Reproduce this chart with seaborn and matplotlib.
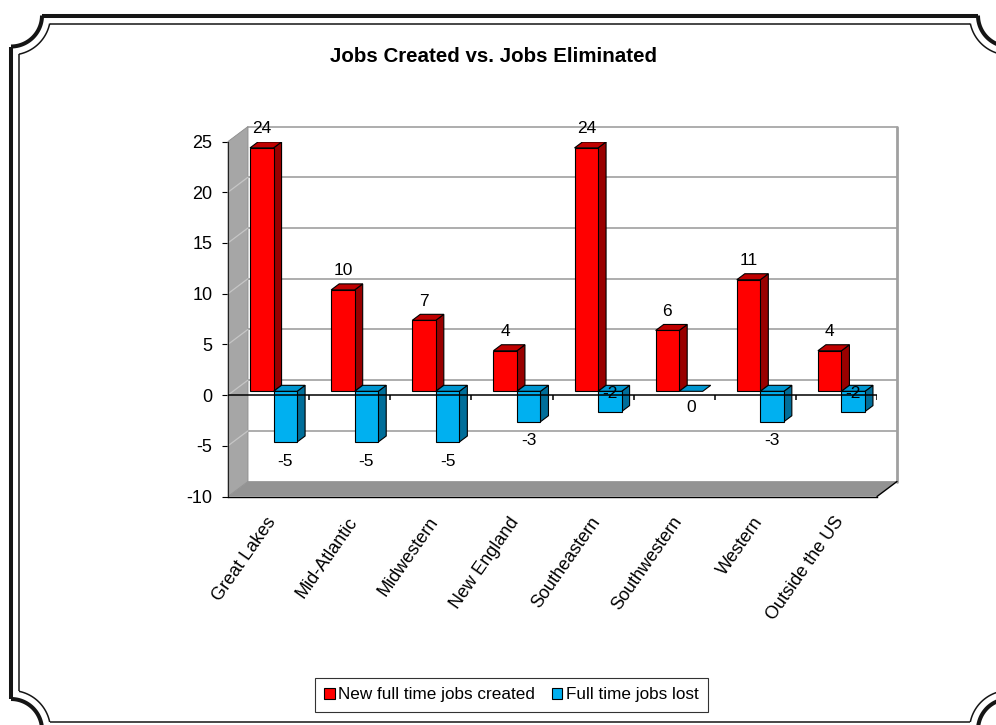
import numpy as np
import pandas as pd
import matplotlib
matplotlib.use("Agg")
import matplotlib.pyplot as plt
import seaborn as sns
from matplotlib.patches import Polygon, Patch

# ---- data ----
regions = ["Great Lakes", "Mid-Atlantic", "Midwestern", "New England",
           "Southeastern", "Southwestern", "Western", "Outside the US"]
jobs_created = [24, 10, 7, 4, 24, 6, 11, 4]
jobs_lost = [-5, -5, -5, -3, -2, 0, -3, -2]
series_names = ["New full time jobs created", "Full time jobs lost"]
y_ticks = [-10, -5, 0, 5, 10, 15, 20, 25]
title = "Jobs Created vs. Jobs Eliminated"

sns.set_style("white")
plt.rcParams["font.family"] = ["Liberation Sans", "DejaVu Sans"]
plt.rcParams["axes.unicode_minus"] = False
plt.rcParams["text.color"] = "black"
plt.rcParams["ytick.color"] = "black"

df = pd.DataFrame({
    "Region": regions * 2,
    "Series": [series_names[0]] * len(regions) + [series_names[1]] * len(regions),
    "Jobs": jobs_created + jobs_lost,
})

W, H = 996, 725
fig = plt.figure(figsize=(W / 100, H / 100), dpi=100)

# ---- decorative double frame with scooped corners (pixel coordinates) ----
bg = fig.add_axes([0, 0, 1, 1], zorder=-5)
bg.set_xlim(0, W)
bg.set_ylim(H, 0)
bg.axis("off")


def frame(x0, y0, x1, y1, r, d, lw):
    k = np.sqrt(r * r - d * d)
    segs = [
        ([x0 + k, x1 - k], [y0 + d, y0 + d]),
        ([x0 + k, x1 - k], [y1 - d, y1 - d]),
        ([x0 + d, x0 + d], [y0 + k, y1 - k]),
        ([x1 - d, x1 - d], [y0 + k, y1 - k]),
    ]
    t = np.linspace(np.arcsin(d / r), np.arccos(d / r), 60)
    for cx, cy, sx, sy in [(x0, y0, 1, 1), (x1, y0, -1, 1),
                           (x0, y1, 1, -1), (x1, y1, -1, -1)]:
        segs.append((cx + sx * r * np.cos(t), cy + sy * r * np.sin(t)))
    for xs, ys in segs:
        bg.plot(xs, ys, color="#151515", lw=lw, solid_capstyle="butt")


frame(11, 15.5, 1009, 730, 31, 0, 2.9)
frame(11, 15.5, 1009, 730, 39.5, 8, 1.1)

# ---- front plane of the 3-D plot ----
ax = fig.add_axes([228 / W, 1 - 496.5 / H, 649 / W, 355 / H])
ax.set_facecolor("none")
sns.barplot(data=df, x="Region", y="Jobs", hue="Series",
            palette=["#ff0000", "#00b0f0"], width=0.58, saturation=1,
            edgecolor="black", linewidth=0.8, legend=False, ax=ax)
xl, xr, yb, yt = -0.5, len(regions) - 0.5, y_ticks[0], y_ticks[-1]
ax.set_xlim(xl, xr)
ax.set_ylim(yb, yt)

(p0x, p0y), (p1x, p1y) = ax.transData.transform([(0, 0), (1, 1)])
ux, uy = p1x - p0x, p1y - p0y
ddx, ddy = 20 / ux, 15 / uy          # depth of the plot box

# back wall grid
for v in y_ticks:
    ax.plot([xl + ddx, xr + ddx], [v + ddy, v + ddy], color="#a0a0a0",
            lw=1.2, zorder=0.5, clip_on=False)
ax.plot([xr + ddx, xr + ddx], [yb + ddy, yt + ddy], color="#a0a0a0",
        lw=2.0, zorder=0.5, clip_on=False)

# side wall and floor
ax.add_patch(Polygon([(xl, yb), (xl, yt), (xl + ddx, yt + ddy), (xl + ddx, yb + ddy)],
                     closed=True, fc="#a6a6a6", ec="#8c8c8c", lw=0.6,
                     zorder=1, clip_on=False))
for v in y_ticks[1:-1]:
    ax.plot([xl, xl + ddx], [v, v + ddy], color="#c6c6c6", lw=0.9,
            zorder=1.1, clip_on=False)
ax.add_patch(Polygon([(xl, yb), (xr, yb), (xr + ddx, yb + ddy), (xl + ddx, yb + ddy)],
                     closed=True, fc="#939393", ec="none", zorder=1, clip_on=False))
ax.plot([xr, xr + ddx], [yb, yb + ddy], color="black", lw=1.0, zorder=1.2,
        clip_on=False)

# extrude the bars
front, depth = 0.25, 0.40
fdx, fdy = front * ddx, front * ddy
bdx, bdy = depth * ddx, depth * ddy
shades = [("#c00000", "#990000"), ("#0096d0", "#006e9a")]
for s, cont in enumerate(ax.containers):
    top_c, side_c = shades[s]
    for i, bar in enumerate(cont):
        x = bar.get_x() + fdx
        w = bar.get_width()
        y_a = bar.get_y()
        y_b = y_a + bar.get_height()
        ylo, yhi = min(y_a, y_b) + fdy, max(y_a, y_b) + fdy
        z = 3 + i * 0.1 + s * 0.05
        bar.set_x(x)
        bar.set_y(ylo)
        bar.set_height(yhi - ylo)
        bar.set_zorder(z + 0.02)
        ax.add_patch(Polygon([(x, yhi), (x + w, yhi), (x + w + bdx, yhi + bdy),
                              (x + bdx, yhi + bdy)], closed=True, fc=top_c,
                             ec="black", lw=0.8, zorder=z + 0.01))
        if yhi - ylo > 0:
            ax.add_patch(Polygon([(x + w, ylo), (x + w + bdx, ylo + bdy),
                                  (x + w + bdx, yhi + bdy), (x + w, yhi)],
                                 closed=True, fc=side_c, ec="black", lw=0.8,
                                 zorder=z))
        else:
            bar.set_visible(False)

# value labels
for s, cont in enumerate(ax.containers):
    vals = jobs_created if s == 0 else jobs_lost
    for bar, v in zip(cont, vals):
        cx = bar.get_x() + bar.get_width() / 2
        top = bar.get_y() + bar.get_height()
        if v > 0:
            y, off = top, 19
        elif v == 0:
            y, off = bar.get_y(), -16
        elif v >= -2:
            y, off = top, -2
        else:
            y, off = bar.get_y(), -19
        ax.annotate(f"{v}", (cx, y), xytext=(0, off * 0.72),
                    textcoords="offset points", ha="center", va="center",
                    fontsize=12.5, color="black", zorder=10,
                    annotation_clip=False)

# zero axis with category dividers
ax.plot([xl, xr], [0, 0], color="black", lw=1.1, zorder=8)
ax.vlines(np.arange(xl + 1, xr + 0.01, 1), -5 / uy, 0, color="black",
          lw=1.1, zorder=8)

# axes styling
ax.set_yticks(y_ticks)
ax.set_yticklabels([str(v) for v in y_ticks])
ax.tick_params(axis="y", length=4.3, width=0.8, pad=7, labelsize=13,
               direction="out", color="black", left=True, labelcolor="black")
ax.tick_params(axis="x", bottom=False, labelbottom=False)
ax.set_xlabel("")
ax.set_ylabel("")
for sp in ["top", "right"]:
    ax.spines[sp].set_visible(False)
ax.spines["left"].set_color("#222222")
ax.spines["left"].set_linewidth(0.8)
ax.spines["left"].set_zorder(2)
ax.spines["bottom"].set_color("black")
ax.spines["bottom"].set_linewidth(1.0)
ax.spines["bottom"].set_zorder(2)

# category labels
for xt, name in zip(ax.get_xticks(), regions):
    ax.annotate(name, (xt, yb), xytext=(3, -16), textcoords="offset points",
                rotation=55, ha="right", va="center", rotation_mode="anchor",
                fontsize=13, color="black", annotation_clip=False)

fig.text(493 / W, 1 - 57 / H, title, ha="center", va="center",
         fontsize=14.8, fontweight="bold", color="black")

handles = [Patch(fc="#ff0000", ec="black", lw=0.8, label=series_names[0]),
           Patch(fc="#00b0f0", ec="black", lw=0.8, label=series_names[1])]
leg = fig.legend(handles=handles, loc="center",
                 bbox_to_anchor=(511.5 / W, 1 - 695 / H), ncol=2, frameon=True,
                 fancybox=False, edgecolor="black", fontsize=12.3,
                 handlelength=0.6, handleheight=0.6, handletextpad=0.2,
                 columnspacing=1.0, borderpad=0.55, borderaxespad=0)
leg.get_frame().set_linewidth(0.8)

fig.savefig("out.png", dpi=100)
